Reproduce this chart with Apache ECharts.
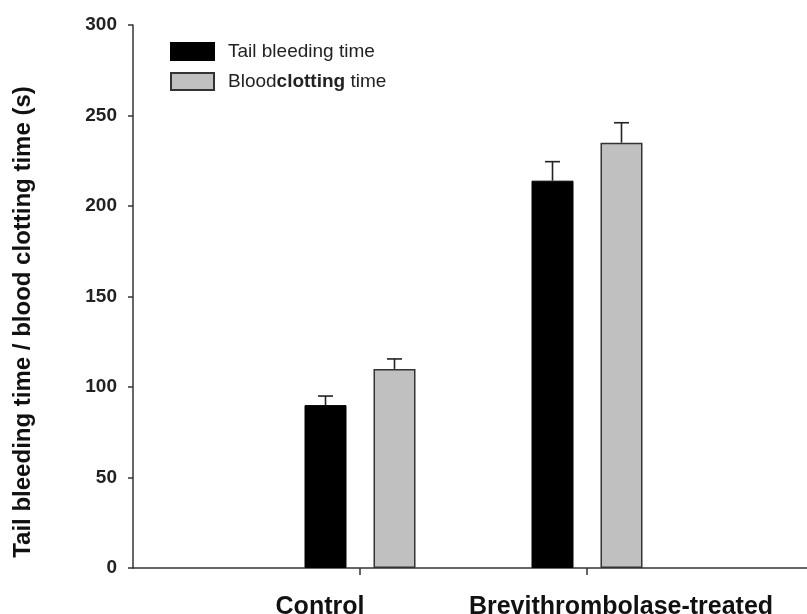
<!DOCTYPE html>
<html>
<head>
<meta charset="utf-8">
<script src="https://cdn.jsdelivr.net/npm/echarts@6/dist/echarts.min.js"></script>
<style>
  html, body { margin: 0; padding: 0; background: #fff; }
  #chart { width: 807px; height: 614px; }
</style>
</head>
<body>
<div id="chart"></div>
<script>
// Groups on the x axis (padded with empty slots on either side)
const categories = ['', 'Control', 'Brevithrombolase-treated', ''];
// Mean times in seconds
const tailBleeding = [null, 90, 214, null];
const bloodClotting = [null, 110, 235, null];
// Standard error (upper bar only)
const tailBleedingErr = [null, 5, 10.5, null];
const bloodClottingErr = [null, 5.5, 11, null];
// Y axis ticks
const yMin = 0, yMax = 300, yStep = 50;

const BAR_W = 42;
const BAR_GAP = 27;
const FONT = '"Liberation Sans", Arial, Helvetica, sans-serif';

function errorSeries(name, values, errs, side) {
  const data = values.map((v, i) => (v == null ? null : [i, v, v + errs[i]])).filter(d => d);
  return {
    type: 'custom',
    name: name + ' error',
    silent: true,
    z: 5,
    data: data,
    renderItem: function (params, api) {
      const base = api.coord([api.value(0), api.value(1)]);
      const top = api.coord([api.value(0), api.value(2)]);
      const x = base[0] + side * (BAR_W + BAR_GAP) / 2;
      const cap = 7.5;
      const style = { stroke: '#222', lineWidth: 1.6 };
      return {
        type: 'group',
        children: [
          { type: 'line', shape: { x1: x, y1: base[1], x2: x, y2: top[1] }, style: style },
          { type: 'line', shape: { x1: x - cap, y1: top[1], x2: x + cap, y2: top[1] }, style: style }
        ]
      };
    }
  };
}

const chart = echarts.init(document.getElementById('chart'));
chart.setOption({
  animation: false,
  backgroundColor: '#fff',
  grid: {
    left: 133, top: 25, width: 681, bottom: 46,
    containLabel: false,
    outerBoundsMode: 'none'
  },
  legend: {
    orient: 'vertical',
    left: 170,
    top: 42,
    padding: 0,
    itemWidth: 43,
    itemHeight: 17,
    itemGap: 11,
    icon: 'rect',
    data: ['Tail bleeding time', 'Blood clotting time'],
    formatter: function (name) {
      if (name === 'Blood clotting time') return '{r|Blood}{b|clotting}{r| time}';
      return '{r|' + name + '}';
    },
    textStyle: {
      fontFamily: FONT,
      fontSize: 19,
      color: '#222',
      padding: [0, 0, 0, 9],
      rich: {
        r: { fontFamily: FONT, fontSize: 19, color: '#222' },
        b: { fontFamily: FONT, fontSize: 19, fontWeight: 'bold', color: '#222' }
      }
    }
  },
  xAxis: {
    type: 'category',
    data: [
      categories[0],
      { value: categories[1], textStyle: { padding: [0, 80, 0, 0] } },
      { value: categories[2], textStyle: { padding: [0, 0, 0, 68] } },
      categories[3]
    ],
    boundaryGap: false,
    axisLine: { show: true, lineStyle: { color: '#333', width: 1.5 } },
    axisTick: {
      show: true,
      length: 7,
      interval: function (i) { return i === 1 || i === 2; },
      lineStyle: { color: '#333', width: 1.5 }
    },
    axisLabel: {
      interval: 0,
      margin: 27,
      fontFamily: FONT,
      fontSize: 25,
      fontWeight: 'bold',
      color: '#111'
    },
    splitLine: { show: false }
  },
  yAxis: {
    type: 'value',
    min: yMin,
    max: yMax,
    interval: yStep,
    axisLine: { show: true, lineStyle: { color: '#333', width: 1.5 } },
    axisTick: { show: true, length: 5, lineStyle: { color: '#333', width: 1.5 } },
    axisLabel: {
      margin: 16,
      fontFamily: FONT,
      fontSize: 19,
      fontWeight: 'bold',
      color: '#222'
    },
    splitLine: { show: false }
  },
  graphic: [{
    type: 'text',
    x: 23,
    y: 322,
    rotation: Math.PI / 2,
    style: {
      text: 'Tail bleeding time / blood clotting time (s)',
      fontFamily: FONT,
      fontSize: 24,
      fontWeight: 'bold',
      fill: '#111',
      align: 'center',
      verticalAlign: 'middle'
    }
  }],
  series: [
    {
      type: 'bar',
      name: 'Tail bleeding time',
      data: tailBleeding,
      barWidth: BAR_W,
      barGap: (BAR_GAP / BAR_W * 100) + '%',
      itemStyle: { color: '#000', borderColor: '#000', borderWidth: 1 }
    },
    {
      type: 'bar',
      name: 'Blood clotting time',
      data: bloodClotting,
      barWidth: BAR_W,
      itemStyle: { color: '#c0c0c0', borderColor: '#333', borderWidth: 1.5 }
    },
    errorSeries('Tail bleeding time', tailBleeding, tailBleedingErr, -1),
    errorSeries('Blood clotting time', bloodClotting, bloodClottingErr, 1)
  ]
});
</script>
</body>
</html>
